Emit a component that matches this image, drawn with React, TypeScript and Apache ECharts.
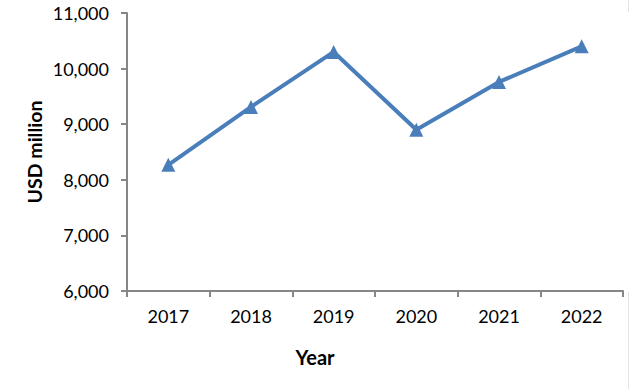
import React, { useEffect, useRef } from "react";
import * as echarts from "echarts";

const categories = ["2017", "2018", "2019", "2020", "2021", "2022"];
const values = [8270, 9310, 10300, 8900, 9760, 10400];
const yMin = 6000;
const yMax = 11000;
const yInterval = 1000;
const yTitle = "USD million";
const xTitle = "Year";

const FONT = "Lato, 'Open Sans', sans-serif";
const AXIS = "#868686";
const BLUE = "#4a7ebb";

export default function App() {
  const ref = useRef<HTMLDivElement>(null);
  useEffect(() => {
    if (!ref.current) return;
    const chart = echarts.init(ref.current, undefined, { renderer: "svg" });
    chart.setOption({
      animation: false,
      backgroundColor: "#ffffff",
      grid: { left: 127, right: 6, top: 13, bottom: 98 },
      xAxis: {
        type: "category",
        data: categories,
        boundaryGap: true,
        axisLine: { lineStyle: { color: AXIS, width: 2 } },
        axisTick: { show: true, length: 6, lineStyle: { color: AXIS, width: 2 }, alignWithLabel: false },
        axisLabel: { color: "#000", fontFamily: FONT, fontSize: 18, margin: 16 },
        splitLine: { show: false },
      },
      yAxis: {
        type: "value",
        min: yMin,
        max: yMax,
        interval: yInterval,
        axisLine: { show: true, lineStyle: { color: AXIS, width: 2 } },
        axisTick: { show: true, length: 6, lineStyle: { color: AXIS, width: 2 } },
        axisLabel: {
          color: "#000",
          fontFamily: FONT,
          fontSize: 18,
          margin: 18,
          formatter: (v: number) => v.toLocaleString("en-US"),
        },
        splitLine: { show: false },
      },
      graphic: [
        {
          type: "text",
          x: 34,
          y: 152,
          rotation: Math.PI / 2,
          style: {
            text: yTitle,
            fontFamily: FONT,
            fontSize: 19.5,
            fontWeight: "bold",
            fill: "#000",
            align: "center",
            verticalAlign: "middle",
          },
        },
        {
          type: "text",
          x: 315,
          y: 357,
          style: {
            text: xTitle,
            fontFamily: FONT,
            fontSize: 20,
            fontWeight: "bold",
            fill: "#000",
            align: "center",
            verticalAlign: "middle",
          },
        },
        {
          type: "line",
          shape: { x1: 628.5, y1: 292, x2: 628.5, y2: 389 },
          style: { stroke: "#e3e3e3", lineWidth: 1 },
        },
        {
          type: "line",
          shape: { x1: 628.5, y1: 0, x2: 628.5, y2: 12 },
          style: { stroke: "#e3e3e3", lineWidth: 1 },
        },
      ],
      series: [
        {
          type: "line",
          data: values,
          symbol: "triangle",
          symbolSize: 14,
          showAllSymbol: true,
          lineStyle: { color: BLUE, width: 4 },
          itemStyle: { color: BLUE },
        },
      ],
    });
    return () => chart.dispose();
  }, []);
  return (
    <div
      ref={ref}
      style={{ position: "fixed", left: 0, top: 0, width: 629, height: 389 }}
    />
  );
}
